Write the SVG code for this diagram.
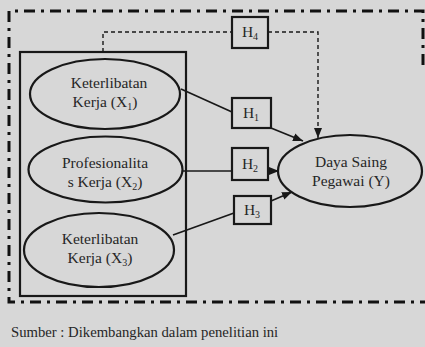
<svg xmlns="http://www.w3.org/2000/svg" width="425" height="347" viewBox="0 0 425 347">
<defs>
<style>
text{font-size:15.5px;fill:#262626;text-anchor:middle}
.sub{font-size:10px}
.node{fill:none;stroke:#181818;stroke-width:2.2}
.box{fill:none;stroke:#181818;stroke-width:2.2}
.edge{fill:none;stroke:#181818;stroke-width:1.7}
.dash{fill:none;stroke:#181818;stroke-width:1.4;stroke-dasharray:4 3}
.frame{fill:none;stroke:#111;stroke-width:3;stroke-dasharray:11 6 3 6}
</style>
<marker id="arr" markerUnits="userSpaceOnUse" markerWidth="10" markerHeight="10" viewBox="0 0 10 10" refX="10" refY="5" orient="auto">
<path d="M0,1 L10,5 L0,9 Z" fill="#181818"/>
</marker>
</defs>
<rect width="425" height="347" fill="#d7d7d7"/>
<g id="frame">
<path class="frame" d="M423,65 V11 H9 V302 H425"/>
<rect x="20" y="52" width="166" height="244" fill="none" stroke="#181818" stroke-width="2.2"/>
</g>
<g id="connectors">
<path class="dash" d="M103,52 V32 H232"/>
<path class="dash" d="M268,32 H318 V138" marker-end="url(#arr)"/>
<line class="edge" x1="181" y1="89" x2="232" y2="112"/>
<line class="edge" x1="271" y1="128" x2="303" y2="141" marker-end="url(#arr)"/>
<line class="edge" x1="183" y1="171" x2="232" y2="171"/>
<line class="edge" x1="268" y1="171" x2="279" y2="171" marker-end="url(#arr)"/>
<line class="edge" x1="173" y1="235" x2="234" y2="213"/>
<line class="edge" x1="271" y1="201" x2="292" y2="192" marker-end="url(#arr)"/>
</g>
<g font-family="Liberation Serif, DejaVu Serif, serif">
<g id="x1">
<ellipse class="node" cx="105" cy="94" rx="75" ry="35"/>
<text x="109" y="88">Keterlibatan</text>
<text x="105" y="107">Kerja (X<tspan class="sub" dy="3">1</tspan><tspan dy="-3">)</tspan></text>
</g>
<g id="x2">
<ellipse class="node" cx="105.5" cy="169.5" rx="77" ry="33"/>
<text x="105" y="168">Profesionalita</text>
<text x="105" y="187">s Kerja (X<tspan class="sub" dy="3">2</tspan><tspan dy="-3">)</tspan></text>
</g>
<g id="x3">
<ellipse class="node" cx="99" cy="250" rx="75" ry="37"/>
<text x="100" y="244">Keterlibatan</text>
<text x="100" y="263">Kerja (X<tspan class="sub" dy="3">3</tspan><tspan dy="-3">)</tspan></text>
</g>
<g id="y">
<ellipse class="node" cx="350" cy="171" rx="72" ry="36"/>
<text x="351" y="167">Daya Saing</text>
<text x="351" y="186">Pegawai (Y)</text>
</g>
<g id="h1">
<rect class="box" x="232" y="98" width="39" height="30"/>
<text x="251" y="118">H<tspan class="sub" dy="3">1</tspan></text>
</g>
<g id="h2">
<rect class="box" x="232" y="148" width="36" height="32"/>
<text x="250" y="169">H<tspan class="sub" dy="3">2</tspan></text>
</g>
<g id="h3">
<rect class="box" x="234" y="196" width="37" height="28"/>
<text x="252" y="215">H<tspan class="sub" dy="3">3</tspan></text>
</g>
<g id="h4">
<rect class="box" x="232" y="17" width="36" height="31"/>
<text x="250" y="37">H<tspan class="sub" dy="3">4</tspan></text>
</g>
<text x="11" y="337" style="text-anchor:start;font-size:14.7px">Sumber : Dikembangkan dalam penelitian ini</text>
</g>
</svg>
